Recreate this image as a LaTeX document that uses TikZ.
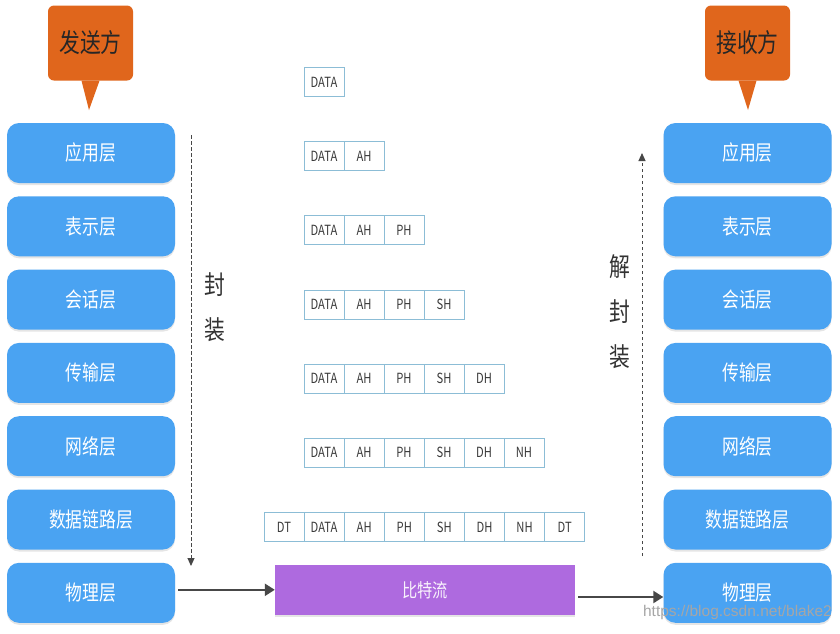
\documentclass[tikz,border=0pt]{standalone}
\usepackage{fontspec}
\setmainfont[FakeStretch=0.8]{Noto Sans CJK SC}
\newfontfamily\urlfont{Liberation Sans}
\usetikzlibrary{arrows.meta,shadows}
\definecolor{layerblue}{HTML}{4AA3F2}
\definecolor{callorange}{HTML}{E0661C}
\definecolor{bitpurple}{HTML}{AE6ADF}
\definecolor{cellline}{HTML}{8CBDD6}
\definecolor{arrowgray}{HTML}{474747}
\definecolor{celltext}{HTML}{3A3A3A}
\begin{document}
\begin{tikzpicture}[x=1pt,y=-1pt,
  layer/.style={rounded corners=12pt, fill=layerblue, minimum width=168pt, minimum height=60pt,
    inner sep=0pt, text=white, font=\fontsize{21}{21}\selectfont,
    drop shadow={shadow xshift=0pt, shadow yshift=-2pt, opacity=0.2}},
  callout/.style={rounded corners=6pt, fill=callorange, minimum width=85pt, minimum height=75pt,
    inner sep=0pt, text=black!85, font=\fontsize{26}{26}\selectfont},
  cell/.style={draw=cellline, line width=0.9pt, minimum width=40pt, minimum height=29pt,
    inner sep=0pt, text=celltext, font=\fontsize{14}{14}\selectfont},
  bits/.style={fill=bitpurple, minimum width=300pt, minimum height=50pt, inner sep=0pt,
    text=white!92!bitpurple, font=\fontsize{19}{19}\selectfont,
    drop shadow={shadow xshift=0pt, shadow yshift=-2pt, opacity=0.2}},
  flow/.style={draw=arrowgray, line width=2.2pt, -{Triangle[length=10pt,width=12pt]}},
  dashflow/.style={draw=arrowgray, line width=1pt, dash pattern=on 3.5pt off 2.5pt,
    -{Triangle[length=8pt,width=7pt]}},
  vlabel/.style={text=black!80, font=\fontsize{26}{45}\selectfont, align=center, inner sep=0pt}
]
\useasboundingbox[fill=white] (0,0) rectangle (840,633);

% callouts
\node[callout] (send) at (90.5,43) {发送方};
\fill[callorange] ([xshift=-9pt]send.south) -- (89,110) -- ([xshift=9pt]send.south) -- cycle;
\node[callout] (recv) at (747.5,43) {接收方};
\fill[callorange] ([xshift=-9pt]recv.south) -- (748,110) -- ([xshift=9pt]recv.south) -- cycle;

% layers
\foreach \n/\t [count=\i from 0] in {1/应用层,2/表示层,3/会话层,4/传输层,5/网络层,6/数据链路层,7/物理层}{
  \node[layer] (L\n) at (91,153+73.3*\i) {\t};
  \node[layer] (R\n) at (747.5,153+73.3*\i) {\t};
}

% packets
\foreach \r [evaluate=\r as \yy using 82+74.17*(\r-1)] in {1,...,6}{
  \foreach \lab [count=\c from 0] in {DATA,AH,PH,SH,DH,NH}{
    \ifnum\c<\r
      \node[cell] (p\r-\c) at (324+40*\c,\yy) {\lab};
    \fi
  }
}
\foreach \lab [count=\c from 0] in {DT,DATA,AH,PH,SH,DH,NH,DT}{
  \node[cell] (p7-\c) at (284+40.1*\c,527) {\lab};
}

% bit stream
\node[bits] (bits) at (425,590) {比特流};

% arrows
\draw[flow] (L7.east) ++(3,-3) coordinate (a1) -- (a1 -| bits.west);
\draw[flow] (bits.east) ++(3,7) coordinate (a2) -- (a2 -| R7.west);

% dashed
\coordinate (ds) at (191,135);
\coordinate (de) at (191,566);
\draw[dashflow] (ds) -- (de);
\coordinate (us) at (642,556);
\coordinate (ue) at (642,153);
\draw[dashflow] (us) -- (ue);

\node[vlabel] (enc) at (215,307) {封\\装};
\node[vlabel] (dec) at (620,312) {解\\封\\装};

% watermark
\node[text=black!35, font=\urlfont\fontsize{15.5}{15.5}\selectfont, inner sep=0pt, anchor=east] (wm) at (832,612) {https://blog.csdn.net/blake2};
\end{tikzpicture}
\end{document}
